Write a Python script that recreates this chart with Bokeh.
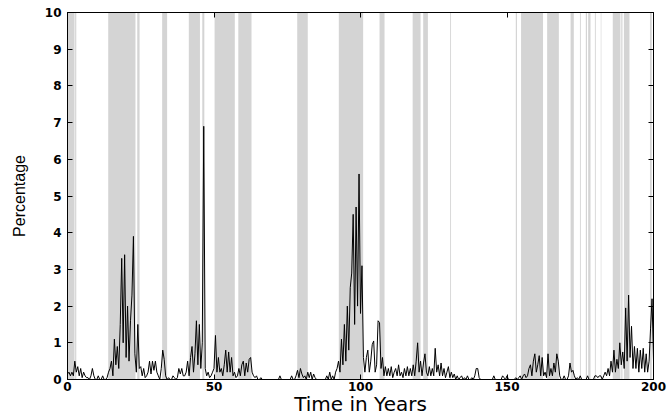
from bokeh.plotting import figure
from bokeh.models import LinearAxis, Range1d, FixedTicker, ColumnDataSource
from bokeh.embed import file_html
from bokeh.resources import INLINE

# Shaded periods (years)
band_start = [0.0, 2.6, 13.9, 23.8, 32.3, 41.4, 46.0, 50.2, 58.3, 78.4, 92.6, 106.5,
              117.8, 121.4, 130.6, 153.0, 154.8, 163.7, 171.7, 174.9, 176.9, 177.7,
              180.0, 182.0, 186.1, 189.0, 189.9, 198.8]
band_end = [2.4, 3.0, 23.2, 24.6, 34.0, 45.2, 46.7, 57.1, 62.8, 82.0, 100.9, 108.2,
            120.5, 123.0, 130.9, 153.4, 162.3, 167.7, 172.8, 175.2, 177.3, 178.5,
            180.3, 182.2, 188.7, 189.4, 191.8, 199.4]

# Percentage series, sampled every half year from 0 to 200
pct = [
    # 0-10
    0.15, 0.2, 0.1, 0.2, 0.1, 0.5, 0.2, 0.35, 0.1, 0.3, 0.05, 0.2, 0.1, 0.05, 0.05, 0.0, 0.1, 0.3, 0.1, 0.0,
    # 10-20
    0.0, 0.1, 0.0, 0.0, 0.1, 0.0, 0.0, 0.05, 0.2, 0.3, 0.5, 0.1, 1.1, 0.4, 0.9, 0.3, 1.5, 3.3, 1.0, 3.4,
    # 20-30
    0.6, 2.0, 0.5, 1.6, 2.3, 3.9, 0.7, 0.2, 1.5, 0.3, 0.35, 0.1, 0.3, 0.05, 0.1, 0.2, 0.5, 0.15, 0.5, 0.25,
    # 30-40
    0.5, 0.2, 0.1, 0.0, 0.3, 0.8, 0.55, 0.1, 0.0, 0.05, 0.0, 0.0, 0.1, 0.05, 0.0, 0.05, 0.3, 0.15, 0.3, 0.1,
    # 40-50
    0.1, 0.2, 0.5, 0.1, 0.6, 0.9, 0.2, 0.7, 1.6, 0.4, 1.5, 0.3, 1.0, 6.9, 0.3, 0.1, 0.2, 0.05, 0.1, 0.2,
    # 50-60
    0.3, 1.2, 0.2, 0.6, 0.2, 0.3, 0.1, 0.4, 0.8, 0.2, 0.75, 0.2, 0.6, 0.1, 0.2, 0.05, 0.1, 0.3, 0.1, 0.4,
    # 60-70
    0.5, 0.1, 0.45, 0.2, 0.55, 0.6, 0.2, 0.1, 0.05, 0.1, 0.0, 0.0, 0.05, 0.0, 0.0, 0.0, 0.0, 0.0, 0.0, 0.0,
    # 70-80
    0.0, 0.0, 0.0, 0.0, 0.0, 0.1, 0.0, 0.0, 0.0, 0.0, 0.0, 0.0, 0.0, 0.1, 0.0, 0.0, 0.1, 0.25, 0.05, 0.3,
    # 80-90
    0.15, 0.05, 0.1, 0.0, 0.2, 0.05, 0.2, 0.0, 0.15, 0.05, 0.0, 0.0, 0.0, 0.0, 0.0, 0.0, 0.0, 0.1, 0.0, 0.2,
    # 90-100
    0.0, 0.1, 0.0, 0.2, 0.3, 0.5, 0.2, 1.1, 0.4, 1.5, 0.5, 2.0, 0.8, 2.5, 2.9, 4.5, 1.5, 4.7, 2.0, 5.6,
    # 100-110
    1.8, 3.1, 0.6, 0.2, 0.6, 0.8, 0.2, 0.5, 0.95, 1.05, 0.2, 0.4, 1.6, 1.55, 0.3, 0.6, 0.1, 0.35, 0.1, 0.3,
    # 110-120
    0.1, 0.35, 0.05, 0.2, 0.3, 0.1, 0.4, 0.1, 0.2, 0.05, 0.3, 0.1, 0.35, 0.1, 0.3, 0.1, 0.4, 0.1, 0.5, 1.0,
    # 120-130
    0.2, 0.5, 0.1, 0.45, 0.7, 0.2, 0.1, 0.35, 0.1, 0.3, 0.1, 0.85, 0.2, 0.4, 0.1, 0.45, 0.1, 0.3, 0.05, 0.2,
    # 130-140
    0.35, 0.05, 0.2, 0.05, 0.15, 0.0, 0.1, 0.0, 0.05, 0.1, 0.0, 0.05, 0.0, 0.1, 0.0, 0.0, 0.05, 0.0, 0.1, 0.3,
    # 140-150
    0.3, 0.05, 0.0, 0.0, 0.0, 0.0, 0.0, 0.0, 0.0, 0.0, 0.0, 0.1, 0.0, 0.0, 0.0, 0.0, 0.0, 0.1, 0.05, 0.0,
    # 150-160
    0.1, 0.0, 0.0, 0.0, 0.0, 0.0, 0.05, 0.0, 0.05, 0.1, 0.0, 0.1, 0.15, 0.05, 0.1, 0.3, 0.4, 0.1, 0.5, 0.7,
    # 160-170
    0.2, 0.4, 0.65, 0.1, 0.6, 0.1, 0.2, 0.05, 0.7, 0.1, 0.3, 0.1, 0.45, 0.2, 0.7, 0.5, 0.1, 0.0, 0.0, 0.1,
    # 170-180
    0.0, 0.0, 0.1, 0.45, 0.2, 0.25, 0.1, 0.0, 0.05, 0.0, 0.1, 0.0, 0.0, 0.0, 0.0, 0.1, 0.0, 0.0, 0.0, 0.0,
    # 180-190
    0.1, 0.1, 0.05, 0.1, 0.1, 0.0, 0.1, 0.2, 0.1, 0.3, 0.1, 0.5, 0.2, 0.8, 0.2, 0.55, 0.3, 1.0, 0.4, 0.75,
    # 190-200
    0.3, 1.95, 0.5, 2.3, 0.6, 1.45, 0.3, 0.9, 0.3, 0.85, 0.2, 0.8, 0.3, 0.85, 0.2, 0.7, 0.2, 0.5, 1.4, 2.2,
    # 200
    0.5,
]
years = [i * 0.5 for i in range(len(pct))]

x_ticks = [0, 50, 100, 150, 200]
y_ticks = [0, 1, 2, 3, 4, 5, 6, 7, 8, 9, 10]

p = figure(width=668, height=418, output_backend="svg", toolbar_location=None,
           x_range=Range1d(0, 200), y_range=Range1d(0, 10),
           min_border_left=67, min_border_right=15, min_border_top=12, min_border_bottom=38)
p.background_fill_color = "white"
p.border_fill_color = "white"
p.outline_line_color = "black"
p.grid.visible = False

bands = ColumnDataSource(dict(left=band_start, right=band_end))
p.quad(left="left", right="right", bottom=0, top=10, source=bands,
       fill_color="#d4d4d4", line_color=None)

p.line(years, pct, line_color="black", line_width=1)

for ax in (p.xaxis[0], p.yaxis[0]):
    ax.major_tick_in = 5
    ax.major_tick_out = 0
    ax.minor_tick_line_color = None
    ax.axis_line_color = "black"
    ax.major_tick_line_color = "black"
    ax.major_label_text_font = "DejaVu Sans"
    ax.major_label_text_font_size = "12px"
    ax.major_label_text_font_style = "bold"
    ax.major_label_text_color = "black"
    ax.axis_label_text_font_style = "normal"
    ax.axis_label_text_color = "black"

p.xaxis[0].ticker = FixedTicker(ticks=x_ticks)
p.yaxis[0].ticker = FixedTicker(ticks=y_ticks)
p.xaxis[0].axis_label = "Time in Years"
p.xaxis[0].axis_label_text_font = "DejaVu Sans"
p.xaxis[0].axis_label_text_font_size = "20px"
p.xaxis[0].axis_label_standoff = -2
p.xaxis[0].major_label_standoff = 2
p.yaxis[0].axis_label = "Percentage"
p.yaxis[0].axis_label_text_font = "Liberation Sans"
p.yaxis[0].axis_label_text_font_size = "16px"
p.yaxis[0].axis_label_standoff = 14
p.yaxis[0].major_label_standoff = 6

for loc, ticks in (("right", y_ticks), ("above", x_ticks)):
    a = LinearAxis(ticker=FixedTicker(ticks=ticks))
    a.major_label_text_font_size = "0px"
    a.major_label_text_color = None
    a.major_tick_in = 5
    a.major_tick_out = 0
    a.minor_tick_line_color = None
    a.axis_line_color = "black"
    a.major_label_standoff = 0
    p.add_layout(a, loc)

open("out.html", "w").write(file_html(p, INLINE))
